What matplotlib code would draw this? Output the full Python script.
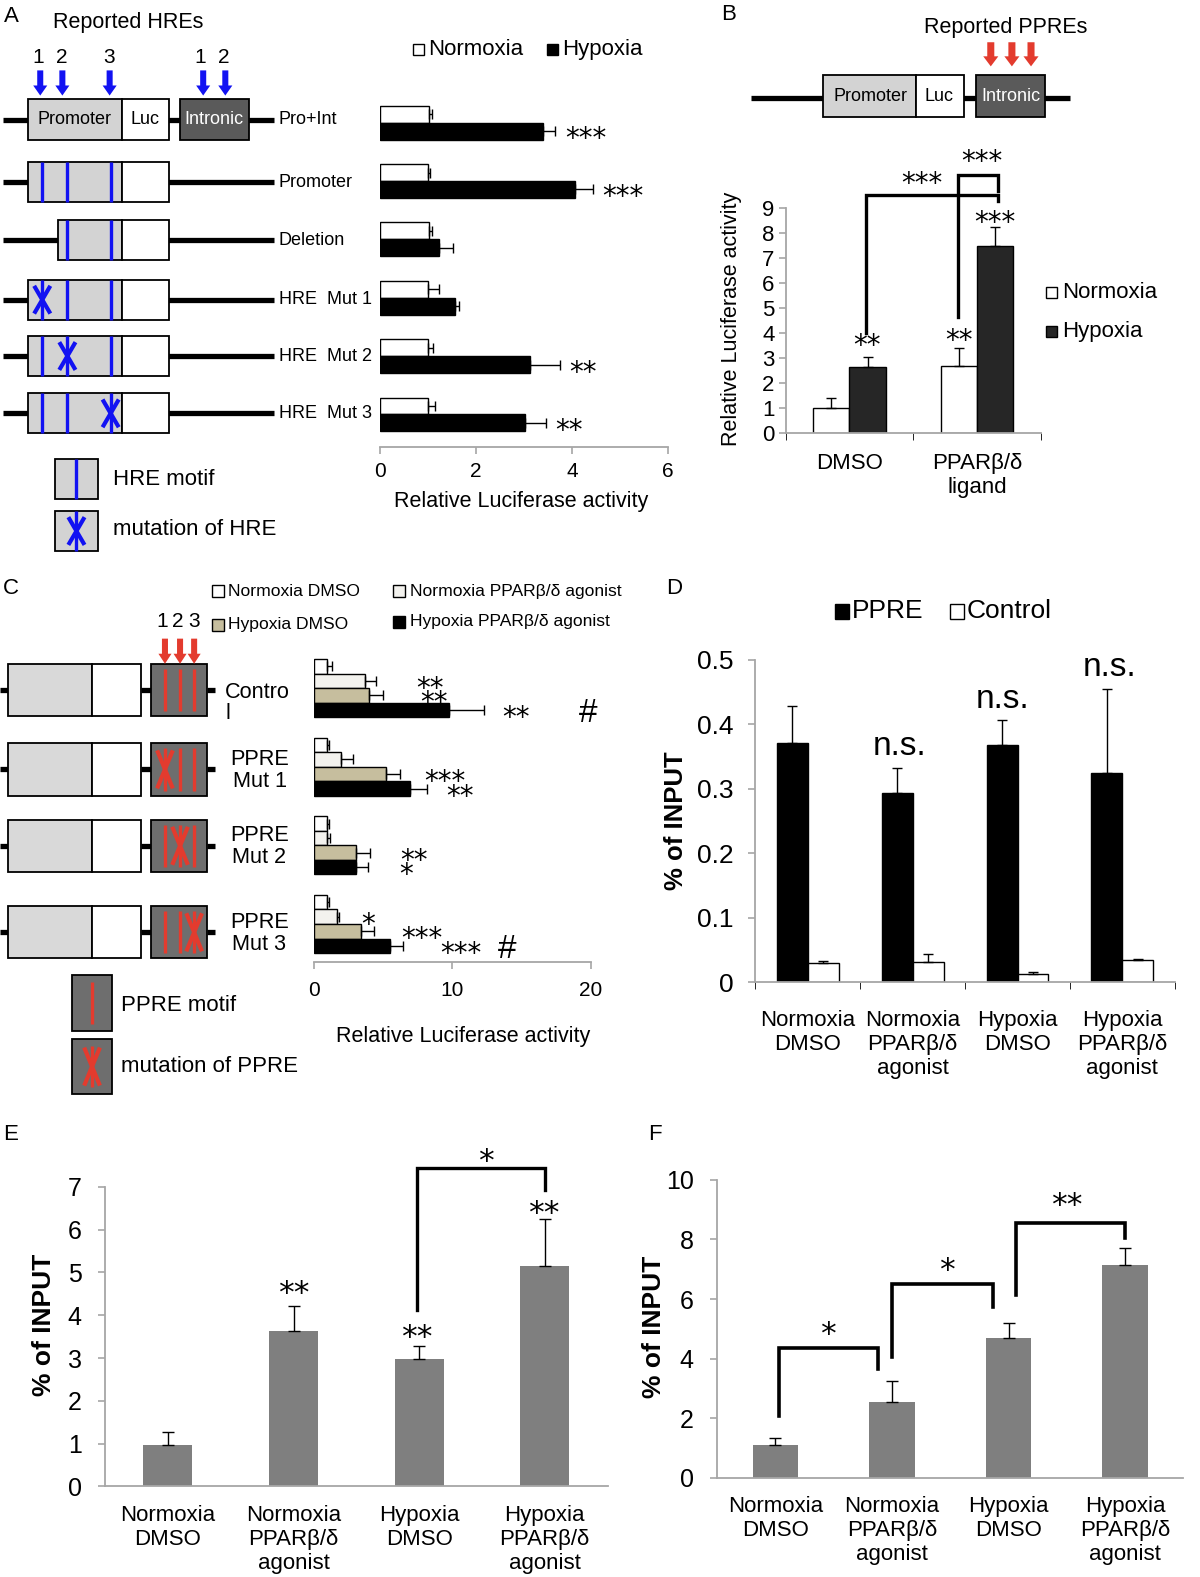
import matplotlib
matplotlib.use('Agg')
import matplotlib.pyplot as plt
from matplotlib.patches import Rectangle
import numpy as np

plt.rcParams['font.family'] = ['Liberation Sans', 'DejaVu Sans']

# ---------------- data ----------------
# A: HRE reporter constructs, relative luciferase activity
a_constructs = ['Pro+Int', 'Promoter', 'Deletion', 'HRE  Mut 1', 'HRE  Mut 2', 'HRE  Mut 3']
a_normoxia = [1.02, 1.0, 1.02, 1.0, 1.0, 1.0]
a_normoxia_err = [0.07, 0.04, 0.07, 0.23, 0.11, 0.15]
a_hypoxia = [3.39, 4.06, 1.23, 1.57, 3.13, 3.01]
a_hypoxia_err = [0.26, 0.37, 0.28, 0.08, 0.61, 0.45]
a_stars = ['***', '***', '', '', '**', '**']

# B: PPRE reporter
b_groups = ['DMSO', 'PPARβ/δ\nligand']
b_normoxia = [1.03, 2.69]
b_normoxia_err = [0.37, 0.72]
b_hypoxia = [2.65, 7.49]
b_hypoxia_err = [0.40, 0.74]

# C: PPRE mutants
c_constructs = ['Contro\nl', 'PPRE\nMut 1', 'PPRE\nMut 2', 'PPRE\nMut 3']
c_series = ['Normoxia DMSO', 'Normoxia PPARβ/δ agonist', 'Hypoxia DMSO', 'Hypoxia PPARβ/δ agonist']
c_norm_dmso = [0.97, 0.97, 0.97, 0.97]
c_norm_dmso_err = [0.31, 0.13, 0.15, 0.15]
c_norm_ago = [3.68, 1.98, 0.97, 1.64]
c_norm_ago_err = [0.79, 0.82, 0.21, 0.18]
c_hyp_dmso = [3.98, 5.23, 3.07, 3.37]
c_hyp_dmso_err = [1.00, 0.97, 0.97, 0.98]
c_hyp_ago = [9.79, 6.96, 3.04, 5.53]
c_hyp_ago_err = [2.49, 1.22, 0.88, 0.88]

# D: ChIP, % of input
conditions = ['Normoxia\nDMSO', 'Normoxia\nPPARβ/δ\nagonist', 'Hypoxia\nDMSO', 'Hypoxia\nPPARβ/δ\nagonist']
d_ppre = [0.371, 0.294, 0.368, 0.325]
d_ppre_err = [0.057, 0.038, 0.039, 0.130]
d_control = [0.029, 0.031, 0.012, 0.034]
d_control_err = [0.004, 0.013, 0.003, 0.002]

# E, F: % of input
e_input = [0.97, 3.64, 2.98, 5.16]
e_input_err = [0.31, 0.57, 0.30, 1.08]
f_input = [1.12, 2.53, 4.68, 7.14]
f_input_err = [0.21, 0.71, 0.51, 0.58]

# ---------------- layout helpers ----------------
W, H = 1193, 1568          # working coordinates of the reference
SPINE = '#a6a6a6'
BLUE = '#1212f2'
RED = '#e33b2e'
LIGHT = '#d3d3d3'
DARK = '#5a5a5a'
MID = '#6e6e6e'
TAN = '#c6be9e'
OFFWHITE = '#f3f2ee'
GREYBAR = '#7f7f7f'

fig = plt.figure(figsize=(12, 15.77), dpi=100)
dax = fig.add_axes([0, 0, 1, 1])
dax.set_xlim(0, W)
dax.set_ylim(H, 0)
dax.axis('off')


def frame(x0, y0, x1, y1):
    return [x0 / W, 1 - y1 / H, (x1 - x0) / W, (y1 - y0) / H]


def txt(x, y, s, fs, **kw):
    kw.setdefault('ha', 'left')
    kw.setdefault('va', 'center')
    dax.text(x, y, s, fontsize=fs, **kw)


def block(x0, x1, y0, y1, fc):
    dax.add_patch(Rectangle((x0, y0), x1 - x0, y1 - y0, facecolor=fc,
                            edgecolor='black', lw=1.3, zorder=2))


def wire(x0, x1, y):
    dax.plot([x0, x1], [y, y], color='black', lw=3.8, solid_capstyle='butt', zorder=1)


def motif(x, y0, y1, color, mutated=False, hw=7, hh=12):
    dax.plot([x, x], [y0, y1], color=color, lw=2.4, solid_capstyle='butt', zorder=3)
    if mutated:
        yc = (y0 + y1) / 2
        dax.plot([x - hw, x + hw], [yc - hh, yc + hh], color=color, lw=3, zorder=3)
        dax.plot([x - hw, x + hw], [yc + hh, yc - hh], color=color, lw=3, zorder=3)


def down_arrow(x, y0, y1, color, w=6, hw=14, hl=10):
    dax.arrow(x, y0, 0, y1 - y0, width=w, head_width=hw, head_length=hl,
              length_includes_head=True, color=color, lw=0, zorder=3)


def swatch(x, y, fc, size=11):
    dax.add_patch(Rectangle((x, y - size / 2), size, size, facecolor=fc,
                            edgecolor='black', lw=1, zorder=2))


def mark(ax, x, y, s, fs=20, ha='center'):
    # visual centre of the symbol string at (x, y)
    if '*' in s:
        fam, frac = 'DejaVu Sans', 0.575
    else:
        fam, frac = 'Liberation Sans', 0.36
    ax.annotate(s, xy=(x, y), xytext=(0, -frac * fs), textcoords='offset points',
                ha=ha, va='baseline', fontsize=fs, family=fam, annotation_clip=False)


def style(ax, left=True):
    for side in ['top', 'right']:
        ax.spines[side].set_visible(False)
    ax.spines['left'].set_visible(left)
    for side in ['left', 'bottom']:
        ax.spines[side].set_color(SPINE)
        ax.spines[side].set_linewidth(1.3)
    ax.patch.set_alpha(0)
    ax.tick_params(color=SPINE, labelcolor='black', width=1.2)


ekw = dict(ecolor='black', elinewidth=1, capsize=3.5, capthick=1)

# =============== panel A ===============
txt(4, 16, 'A', 16)
txt(53, 22, 'Reported HREs', 15.5)
for x, n in zip([38, 61, 108, 199, 222], '12312'):
    txt(x, 57, n, 15, ha='center')
for x in [40, 62, 109, 202, 224]:
    down_arrow(x, 70, 95, BLUE)

a_rows = [119, 181, 239, 298, 354, 411]
y = a_rows[0]
wire(3, 272, y)
block(28, 121, y - 21, y + 20, LIGHT)
block(121, 168, y - 21, y + 20, 'white')
block(179, 248, y - 21, y + 20, DARK)
txt(74, y, 'Promoter', 13, ha='center')
txt(144, y, 'Luc', 13, ha='center')
txt(213, y, 'Intronic', 13, ha='center', color='white')
txt(277, y, a_constructs[0], 13)
for i in range(1, 6):
    y = a_rows[i]
    g0 = 58 if i == 2 else 28
    wire(3, 272, y)
    block(g0, 121, y - 20, y + 20, LIGHT)
    block(121, 168, y - 20, y + 20, 'white')
    sites = [67, 110] if i == 2 else [42, 67, 110]
    for k, sx in enumerate(sites):
        motif(sx, y - 20, y + 20, BLUE, mutated=(i >= 3 and k == i - 3))
    txt(277, y, a_constructs[i], 13)

block(55, 97, 456, 496, LIGHT)
motif(76, 456, 496, BLUE)
txt(112, 477, 'HRE motif', 16)
block(55, 97, 508, 548, LIGHT)
motif(76, 508, 548, BLUE, mutated=True)
txt(112, 526, 'mutation of HRE', 16)

swatch(411, 49, 'white')
txt(426, 49, 'Normoxia', 16)
swatch(544, 49, 'black')
txt(559, 49, 'Hypoxia', 16)

axA = fig.add_axes(frame(378, 90, 664, 444))
ya = np.arange(len(a_constructs))
h = 0.29
axA.barh(ya - h / 2, a_normoxia, h, color='white', edgecolor='black', linewidth=1,
         xerr=[np.zeros(len(ya)), a_normoxia_err], error_kw=ekw)
axA.barh(ya + h / 2, a_hypoxia, h, color='black', edgecolor='black', linewidth=1,
         xerr=[np.zeros(len(ya)), a_hypoxia_err], error_kw=ekw)
for i, s in enumerate(a_stars):
    if s:
        mark(axA, a_hypoxia[i] + a_hypoxia_err[i] + 0.2, i + h / 2, s, ha='left')
axA.set_xlim(0, 6)
axA.set_ylim(5.55, -0.55)
style(axA, left=False)
axA.set_yticks([])
axA.set_xticks([0, 2, 4, 6])
axA.tick_params(axis='x', direction='out', length=5, labelsize=15, pad=6)
txt(518, 499, 'Relative Luciferase activity', 15.5, ha='center')

# =============== panel B ===============
txt(717, 14, 'B', 16)
txt(1000, 27, 'Reported PPREs', 15.5, ha='center')
for x in [985, 1006, 1025]:
    down_arrow(x, 42, 66, RED, w=7, hw=15, hl=10)
wire(747, 1064, 97)
block(818, 911, 75, 116, LIGHT)
block(911, 958, 75, 116, 'white')
block(970, 1039, 75, 116, DARK)
txt(865, 96, 'Promoter', 13, ha='center')
txt(934, 96, 'Luc', 13, ha='center')
txt(1005, 96, 'Intronic', 13, ha='center', color='white')

axB = fig.add_axes(frame(781, 207, 1035, 431))
xb = np.arange(len(b_groups))
w = 0.283
axB.bar(xb - w / 2, b_normoxia, w, color='white', edgecolor='black', linewidth=1,
        yerr=[np.zeros(len(xb)), b_normoxia_err], error_kw=ekw)
axB.bar(xb + w / 2, b_hypoxia, w, color='#262626', edgecolor='black', linewidth=1,
        yerr=[np.zeros(len(xb)), b_hypoxia_err], error_kw=ekw)
axB.set_xlim(-0.5, 1.5)
axB.set_ylim(0, 9)
style(axB)
axB.set_yticks(range(10))
axB.set_xticks(xb, b_groups)
axB.set_xticks([-0.5, 0.5, 1.5], minor=True)
axB.tick_params(axis='x', which='major', length=0, labelsize=16, pad=14)
axB.tick_params(axis='x', which='minor', length=5, direction='out')
axB.tick_params(axis='y', length=5, labelsize=16, pad=3)
axB.plot([0.126, 0.126, 1.162, 1.162], [4.0, 9.53, 9.53, 9.27], color='black', lw=2.4,
         clip_on=False, solid_joinstyle='miter')
axB.plot([0.848, 0.848, 1.162, 1.162], [4.67, 10.33, 10.33, 9.67], color='black', lw=2.4,
         clip_on=False, solid_joinstyle='miter')
mark(axB, 0.14, 3.8, '**')
mark(axB, 0.855, 4.0, '**')
mark(axB, 1.14, 8.73, '***')
mark(axB, 0.565, 10.27, '***')
mark(axB, 1.04, 11.17, '***')
txt(727, 317, 'Relative Luciferase activity', 15.5, ha='center', rotation=90)
swatch(1040, 291, 'white')
txt(1056, 291, 'Normoxia', 16)
swatch(1040, 330, '#262626')
txt(1056, 330, 'Hypoxia', 16)

# =============== panel C ===============
txt(3, 585, 'C', 16)
swatch(211, 588, 'white', 12)
txt(227, 588, c_series[0], 12.6)
swatch(391, 588, OFFWHITE, 12)
txt(408, 588, c_series[1], 12.6)
swatch(211, 621, TAN, 12)
txt(227, 621, c_series[2], 12.6)
swatch(391, 618, 'black', 12)
txt(408, 618, c_series[3], 12.6)
for x, n in zip([161, 177, 193], '123'):
    txt(x, 618, n, 15, ha='center')
for x in [164, 179, 193]:
    down_arrow(x, 635, 660, RED, w=6, hw=13, hl=10)

c_rows = [686, 765, 841, 927]
for i, y in enumerate(c_rows):
    wire(0, 8, y)
    wire(140, 150, y)
    wire(206, 214, y)
    block(8, 91, y - 26, y + 26, '#d9d9d9')
    block(91, 140, y - 26, y + 26, 'white')
    block(150, 206, y - 26, y + 26, MID)
    for k, sx in enumerate([164, 179, 193]):
        motif(sx, y - 21, y + 21, RED, mutated=(i >= 1 and k == i - 1), hw=7, hh=17)
txt(224, 699, c_constructs[0], 15.6, linespacing=1.05)
for i in range(1, 4):
    txt(258, c_rows[i] + 1, c_constructs[i], 15.6, ha='center', linespacing=1.05)

block(72, 111, 969, 1025, MID)
motif(91.5, 976, 1018, RED)
txt(120, 1000, 'PPRE motif', 16)
block(72, 111, 1033, 1088, MID)
motif(91.5, 1040, 1081, RED, mutated=True, hw=7, hh=17)
txt(120, 1060, 'mutation of PPRE', 16)

axC = fig.add_axes(frame(312, 649, 587.5, 957))
xc = np.arange(len(c_constructs))
hc = 0.185
c_vals = [c_norm_dmso, c_norm_ago, c_hyp_dmso, c_hyp_ago]
c_errs = [c_norm_dmso_err, c_norm_ago_err, c_hyp_dmso_err, c_hyp_ago_err]
c_colors = ['white', OFFWHITE, TAN, 'black']
for j in range(4):
    axC.barh(xc + (j - 1.5) * hc, c_vals[j], hc, color=c_colors[j], edgecolor='black',
             linewidth=1, xerr=[np.zeros(len(xc)), c_errs[j]], error_kw=ekw)
c_marks = [(0, 1, 8.4, '**'), (0, 2, 8.7, '**'), (0, 3, 14.6, '**'), (0, 3, 19.8, '#'),
           (1, 2, 9.45, '***'), (1, 3, 10.55, '**'),
           (2, 2, 7.2, '**'), (2, 3, 6.65, '*'),
           (3, 1, 3.95, '*'), (3, 2, 7.8, '***'), (3, 3, 10.6, '***'), (3, 3, 13.95, '#')]
for r, j, x, s in c_marks:
    mark(axC, x, r + (j - 1.5) * hc, s, fs=24 if s == '#' else 20)
axC.set_xlim(0, 20)
axC.set_ylim(3.49, -0.45)
style(axC, left=False)
axC.set_yticks([])
axC.set_xticks([0, 10, 20])
axC.tick_params(axis='x', direction='out', length=5, labelsize=15, pad=8)
txt(460, 1031, 'Relative Luciferase activity', 15.5, ha='center')

# =============== panel D ===============
txt(662, 585, 'D', 16)
swatch(830, 608, 'black', 14)
txt(847, 608, 'PPRE', 19)
swatch(944, 608, 'white', 14)
txt(961, 608, 'Control', 19)

axD = fig.add_axes(frame(751, 656, 1168, 976.5))
xd = np.arange(len(conditions))
wd = 0.295
axD.bar(xd - wd / 2, d_ppre, wd, color='black', edgecolor='black', linewidth=1,
        yerr=[np.zeros(len(xd)), d_ppre_err], error_kw=ekw)
axD.bar(xd + wd / 2, d_control, wd, color='white', edgecolor='black', linewidth=1,
        yerr=[np.zeros(len(xd)), d_control_err], error_kw=ekw)
for x, yb in [(0.87, 0.353), (1.86, 0.425), (2.88, 0.475)]:
    axD.text(x, yb, 'n.s.', fontsize=24, ha='center', va='baseline', clip_on=False)
axD.set_xlim(-0.5, 3.5)
axD.set_ylim(0, 0.5)
style(axD)
axD.set_yticks([0, 0.1, 0.2, 0.3, 0.4, 0.5], ['0', '0.1', '0.2', '0.3', '0.4', '0.5'])
axD.set_xticks(xd, conditions)
axD.set_xticks(np.arange(-0.5, 4, 1), minor=True)
axD.tick_params(axis='x', which='major', length=0, labelsize=16, pad=20)
axD.tick_params(axis='x', which='minor', length=5, direction='out')
axD.tick_params(axis='y', length=5, labelsize=19, pad=11)
txt(672, 816, '% of INPUT', 18.5, ha='center', rotation=90, weight='bold')

# =============== panel E ===============
txt(3, 1128, 'E', 16)
axE = fig.add_axes(frame(104.5, 1180, 604, 1478))
xe = np.arange(len(conditions))
axE.bar(xe, e_input, 0.39, color=GREYBAR,
        yerr=[np.zeros(len(xe)), e_input_err], error_kw=dict(ekw, capsize=4))
axE.plot([1.985, 1.985, 3.005, 3.005], [4.12, 7.43, 7.43, 6.92], color='black', lw=2.4,
         clip_on=False, solid_joinstyle='miter')
mark(axE, 1.0, 4.74, '**', fs=22.5)
mark(axE, 1.98, 3.69, '**', fs=22.5)
mark(axE, 2.99, 6.59, '**', fs=22.5)
mark(axE, 2.53, 7.81, '*', fs=22.5)
axE.set_xlim(-0.5, 3.5)
axE.set_ylim(0, 7)
style(axE)
axE.set_yticks(range(8))
axE.set_xticks(xe, conditions)
axE.tick_params(axis='x', length=0, labelsize=16, pad=13)
axE.tick_params(axis='y', length=5, labelsize=18, pad=12)
txt(44, 1317, '% of INPUT', 19, ha='center', rotation=90, weight='bold')

# =============== panel F ===============
txt(644, 1128, 'F', 16)
axF = fig.add_axes(frame(713, 1173, 1176.5, 1469.5))
xf = np.arange(len(conditions))
axF.bar(xf, f_input, 0.39, color=GREYBAR,
        yerr=[np.zeros(len(xf)), f_input_err], error_kw=dict(ekw, capsize=4))
for xs, ys in [([0.03, 0.03, 0.88, 0.88], [2.08, 4.37, 4.37, 3.65]),
               ([1.0, 1.0, 1.87, 1.87], [4.07, 6.51, 6.51, 5.73]),
               ([2.06, 2.06, 3.0, 3.0], [6.14, 8.55, 8.55, 8.04])]:
    axF.plot(xs, ys, color='black', lw=2.6, clip_on=False, solid_joinstyle='miter')
mark(axF, 0.45, 5.13, '*', fs=22.5)
mark(axF, 1.47, 7.26, '*', fs=22.5)
mark(axF, 2.5, 9.46, '**', fs=22.5)
axF.set_xlim(-0.5, 3.5)
axF.set_ylim(0, 10)
style(axF)
axF.set_yticks(range(0, 11, 2))
axF.set_xticks(xf, conditions)
axF.tick_params(axis='x', length=0, labelsize=16, pad=13)
axF.tick_params(axis='y', length=5, labelsize=18, pad=12)
txt(650, 1319, '% of INPUT', 19, ha='center', rotation=90, weight='bold')

fig.savefig('out.png', dpi=100, facecolor='white')
